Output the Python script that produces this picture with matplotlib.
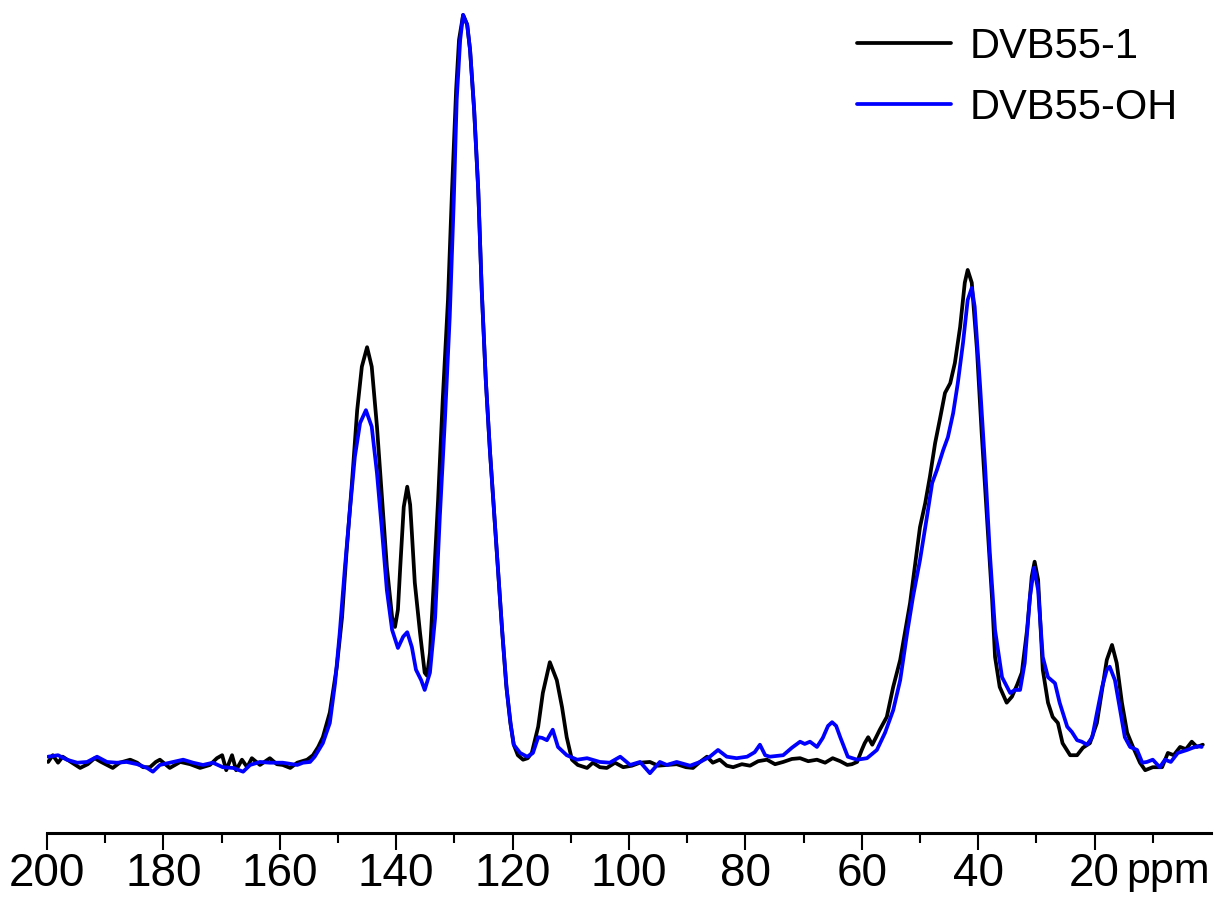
"""13C CP/MAS NMR spectra of DVB55-1 and DVB55-OH."""
import matplotlib.pyplot as plt

# chemical shift (ppm) / intensity (a.u., main peak = 100)
dvb55_1_ppm = [
	199.8, 199.0, 198.1, 197.3, 195.7, 194.3, 193.0, 191.8, 190.7, 189.7,
	188.7, 187.5, 185.7, 184.5, 183.5, 182.3, 181.3, 180.6, 178.9, 177.1,
	175.4, 173.7, 172.0, 170.8, 169.9, 169.2, 168.2, 167.5, 166.5, 165.6,
	164.8, 163.4, 161.7, 160.5, 159.5, 158.2, 157.0, 155.3, 154.3, 153.4,
	152.6, 151.4, 150.2, 149.3, 148.5, 147.6, 146.7, 145.9, 145.0, 144.2,
	143.3, 142.4, 141.6, 140.7, 140.2, 139.7, 139.3, 138.7, 138.1, 137.6,
	137.3, 136.8, 135.9, 135.1, 134.7, 134.2, 133.7, 132.8, 132.0, 131.1,
	130.4, 129.7, 129.2, 128.5, 127.8, 127.3, 126.6, 125.9, 125.3, 124.6,
	123.9, 123.2, 122.5, 121.8, 121.1, 120.4, 119.8, 119.1, 118.2, 117.4,
	116.7, 115.6, 114.8, 113.6, 112.4, 111.5, 110.7, 109.8, 108.8, 107.2,
	106.2, 105.0, 103.8, 102.4, 101.0, 99.5, 98.1, 96.4, 95.0, 93.5,
	91.8, 90.2, 89.0, 87.8, 86.6, 85.6, 84.4, 83.2, 82.1, 80.6,
	79.2, 77.8, 76.3, 74.9, 73.5, 72.0, 70.6, 69.2, 67.7, 66.3,
	65.0, 63.7, 62.5, 61.7, 60.8, 60.0, 59.5, 58.9, 58.2, 57.6,
	56.9, 55.7, 54.6, 53.4, 52.6, 51.7, 50.9, 50.0, 49.1, 48.3,
	47.4, 46.6, 45.7, 44.8, 44.0, 43.1, 42.3, 41.8, 41.1, 40.2,
	39.4, 38.5, 37.6, 37.1, 36.3, 35.1, 34.2, 33.3, 32.5, 31.6,
	30.8, 30.3, 29.7, 28.9, 28.0, 27.2, 26.3, 25.5, 24.2, 23.0,
	22.0, 20.8, 19.6, 18.7, 17.9, 17.0, 16.2, 15.3, 14.4, 13.4,
	12.2, 11.3, 10.0, 8.4, 7.4, 6.4, 5.3, 4.3, 3.3, 2.4, 1.4,
]
dvb55_1_int = [
	0.4, 1.3, 0.3, 1.1, 0.3, -0.4, 0.1, 0.9, 0.4, 0.0,
	-0.4, 0.3, 0.7, 0.3, -0.3, -0.3, 0.4, 0.7, -0.4, 0.4,
	0.1, -0.4, 0.0, 0.9, 1.3, -0.7, 1.3, -0.7, 0.7, -0.3,
	0.9, 0.0, 0.9, 0.1, 0.0, -0.4, 0.3, 0.7, 1.3, 2.4,
	3.7, 7.0, 13.1, 19.7, 28.7, 37.6, 47.3, 53.1, 55.7, 53.1,
	45.1, 35.3, 26.4, 19.7, 18.4, 20.7, 26.4, 34.4, 37.1, 34.7,
	30.9, 24.3, 17.6, 12.3, 11.9, 14.9, 22.0, 35.3, 48.7, 62.0,
	76.7, 90.0, 96.7, 100.0, 98.7, 95.3, 87.3, 76.7, 63.3, 51.3,
	42.0, 34.0, 26.0, 18.0, 10.7, 5.7, 2.7, 1.3, 0.7, 0.9,
	1.6, 5.1, 9.6, 13.7, 11.3, 7.7, 3.7, 0.7, 0.0, -0.4,
	0.3, -0.3, -0.4, 0.3, -0.3, -0.1, 0.3, 0.4, -0.1, 0.0,
	0.1, -0.3, -0.4, 0.4, 1.1, 0.3, 0.7, -0.1, -0.3, 0.1,
	-0.1, 0.5, 0.7, 0.1, 0.4, 0.8, 0.9, 0.5, 0.7, 0.3,
	0.9, 0.5, 0.0, 0.1, 0.4, 2.0, 2.9, 3.7, 2.7, 3.6,
	4.7, 6.4, 10.4, 14.0, 17.6, 21.6, 26.4, 31.7, 34.9, 38.4,
	42.9, 46.0, 49.6, 50.9, 53.6, 58.4, 64.3, 66.0, 64.3, 55.3,
	44.3, 33.1, 22.0, 14.4, 10.4, 8.3, 9.1, 10.7, 12.3, 18.0,
	25.1, 27.1, 24.7, 12.7, 8.3, 6.4, 5.6, 2.9, 1.3, 1.3,
	2.3, 2.9, 5.6, 10.0, 14.0, 16.0, 13.6, 8.3, 4.3, 2.4,
	0.3, -0.7, -0.3, -0.3, 1.6, 1.3, 2.4, 2.1, 3.1, 2.4, 2.7,
]

dvb55_oh_ppm = [
	199.8, 198.1, 196.6, 194.8, 193.1, 191.4, 189.7, 188.0, 186.3, 184.5,
	182.8, 181.8, 180.6, 178.9, 176.6, 174.9, 173.2, 171.5, 169.8, 168.0,
	166.3, 165.1, 163.4, 161.7, 159.5, 157.0, 156.0, 154.8, 154.0, 152.6,
	151.4, 150.5, 149.7, 148.8, 147.9, 147.1, 146.2, 145.2, 144.2, 143.3,
	142.4, 141.6, 140.7, 139.7, 138.8, 138.1, 137.3, 136.6, 135.7, 135.1,
	134.2, 133.3, 132.5, 131.6, 130.8, 130.1, 129.6, 129.0, 128.5, 127.8,
	127.3, 126.6, 125.9, 125.3, 124.6, 123.9, 123.2, 122.5, 121.8, 121.0,
	120.3, 119.8, 118.7, 117.5, 116.5, 115.6, 114.9, 114.1, 113.1, 112.2,
	110.7, 108.9, 107.2, 105.0, 103.3, 101.5, 99.8, 98.1, 96.4, 94.7,
	93.5, 91.8, 89.5, 87.8, 86.1, 84.7, 83.2, 81.5, 79.7, 78.4,
	77.5, 76.6, 75.8, 73.5, 72.0, 70.6, 69.8, 68.9, 67.7, 66.7,
	65.8, 65.1, 64.4, 63.7, 62.4, 60.8, 59.1, 57.4, 56.0, 54.6,
	53.4, 52.2, 51.2, 50.0, 48.8, 47.9, 47.1, 46.0, 45.2, 44.3,
	43.5, 42.6, 41.8, 41.1, 40.6, 39.7, 38.8, 38.0, 37.1, 35.9,
	34.5, 33.7, 32.8, 32.0, 31.1, 30.4, 29.7, 28.9, 28.0, 26.8,
	26.0, 24.7, 23.9, 23.0, 22.2, 21.3, 20.4, 19.6, 18.7, 17.9,
	17.4, 16.5, 15.6, 14.8, 13.9, 12.7, 11.8, 11.0, 10.0, 8.8,
	7.9, 6.9, 5.7, 4.1, 3.1, 2.2, 1.6,
]
dvb55_oh_int = [
	1.1, 1.3, 0.7, 0.3, 0.4, 1.1, 0.4, 0.3, 0.4, 0.1,
	-0.4, -0.9, 0.0, 0.3, 0.7, 0.3, 0.0, 0.3, -0.3, -0.4,
	-0.9, 0.0, 0.4, 0.3, 0.3, 0.0, 0.3, 0.4, 1.1, 2.9,
	5.6, 10.9, 17.6, 26.4, 34.4, 41.1, 45.6, 47.3, 45.1, 38.9,
	30.9, 23.3, 18.0, 15.6, 17.1, 17.7, 15.7, 12.7, 11.3, 10.0,
	12.3, 19.7, 33.1, 46.4, 59.7, 75.3, 88.7, 96.7, 100.0, 98.7,
	95.3, 87.3, 76.7, 63.3, 51.3, 42.0, 34.0, 26.0, 18.0, 10.0,
	5.3, 2.7, 1.6, 1.1, 1.6, 3.7, 3.6, 3.3, 4.7, 2.4,
	1.3, 0.7, 0.9, 0.4, 0.3, 1.1, 0.0, 0.4, -1.1, 0.4,
	0.0, 0.4, -0.1, 0.4, 1.1, 2.0, 1.1, 0.9, 1.1, 1.7,
	2.7, 1.3, 1.1, 1.3, 2.3, 3.1, 2.8, 3.1, 2.4, 3.6,
	5.2, 5.7, 5.2, 3.7, 1.1, 0.7, 0.9, 2.0, 4.3, 7.3,
	11.3, 17.6, 22.4, 27.3, 33.1, 37.6, 39.3, 42.0, 43.7, 46.9,
	50.9, 56.3, 62.0, 63.6, 61.1, 50.9, 39.7, 28.3, 18.0, 11.7,
	9.6, 10.0, 10.0, 13.6, 22.4, 26.3, 23.3, 14.4, 11.7, 10.9,
	8.3, 5.1, 4.4, 3.3, 3.1, 2.7, 3.7, 6.9, 10.4, 12.7,
	13.1, 11.3, 7.3, 3.7, 2.4, 2.0, 0.3, 0.4, 0.7, -0.3,
	0.7, 0.4, 1.6, 2.0, 2.3, 2.5, 2.4,
]

major_ticks = [200, 180, 160, 140, 120, 100, 80, 60, 40, 20]
minor_ticks = [190, 170, 150, 130, 110, 90, 70, 50, 30, 10]

plt.rcParams['font.family'] = ['Liberation Sans', 'DejaVu Sans']

fig = plt.figure(figsize=(12.14, 9.01), dpi=100)
ax = fig.add_axes([0.0387, 0.0755, 0.9588, 0.919])

ax.plot(dvb55_1_ppm, dvb55_1_int, color='black', lw=2.7, label='DVB55-1',
	solid_joinstyle='round', solid_capstyle='round')
ax.plot(dvb55_oh_ppm, dvb55_oh_int, color='#0000ff', lw=2.7, label='DVB55-OH',
	solid_joinstyle='round', solid_capstyle='round')

ax.set_xlim(200, 0)
ax.set_ylim(-9.07, 101.33)

for side in ('top', 'left', 'right'):
	ax.spines[side].set_visible(False)
ax.spines['bottom'].set_linewidth(2.2)
ax.set_yticks([])

ax.set_xticks(major_ticks)
ax.set_xticks(minor_ticks, minor=True)
ax.tick_params(axis='x', which='major', direction='out', length=12, width=1.5, pad=2, labelsize=33)
ax.tick_params(axis='x', which='minor', direction='out', length=7, width=1.5)

# unit label sits on the tick-label row, right after "20"
ax.annotate('ppm', xy=(0.927, 0), xycoords='axes fraction', xytext=(0, -14),
	textcoords='offset points', ha='left', va='top', fontsize=31)

ax.legend(loc='upper left', bbox_to_anchor=(0.706, 0.97), bbox_transform=fig.transFigure,
	frameon=False, fontsize=30, handlelength=2.25, handletextpad=0.45,
	labelspacing=0.5, borderpad=0, borderaxespad=0)

fig.savefig('out.png', dpi=100)
